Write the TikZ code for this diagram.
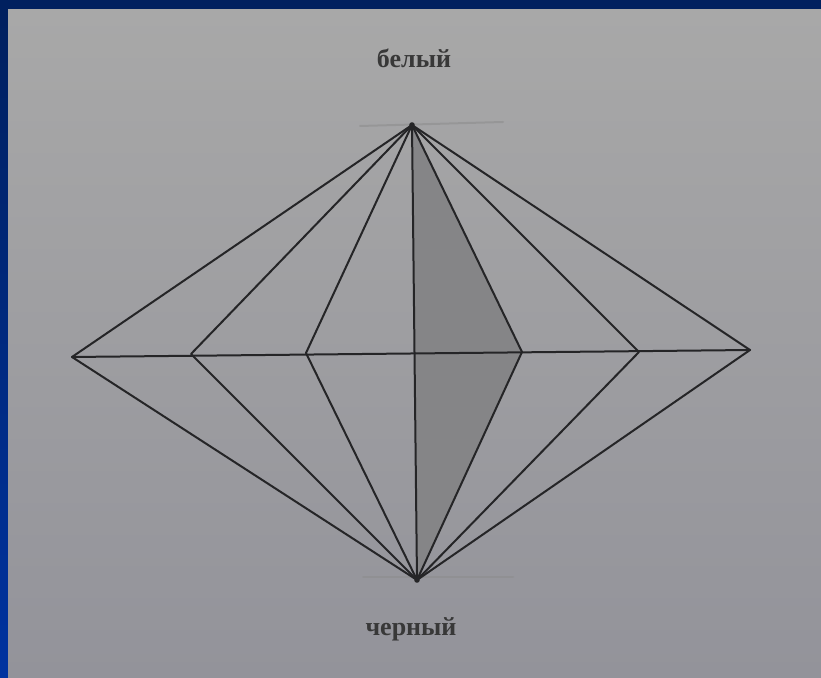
\documentclass[tikz,border=0pt]{standalone}
\usepackage{fontspec}
\setmainfont{Liberation Serif}
\definecolor{navy}{HTML}{00205F}
\definecolor{navyb}{HTML}{0033A0}
\definecolor{papertop}{HTML}{A8A8A8}
\definecolor{paperbot}{HTML}{93939A}
\definecolor{ink}{HTML}{252527}
\definecolor{shadefill}{HTML}{858587}
\begin{document}
\begin{tikzpicture}[x=1pt,y=1pt,
  edge/.style={draw=ink, line width=2pt, line join=round, line cap=round},
  faint/.style={draw=black!45, line width=2pt, opacity=0.55, line cap=round},
  lbl/.style={font=\fontsize{26}{30}\selectfont\bfseries, text=black!78, inner sep=0pt, anchor=base}]
\useasboundingbox (0,0) rectangle (821,677);
% frame and paper
\fill[navy] (0,0) rectangle (821,677);
\shade[top color=navy, bottom color=navyb] (0,0) rectangle (8,667);
\shade[top color=papertop, bottom color=paperbot] (8,0) rectangle (821,667);
% vertices
\coordinate (T) at (412,552);
\coordinate (B) at (417,97);
\coordinate (L1) at (72,320);
\coordinate (L2) at (191,323);
\coordinate (L3) at (306,324);
\coordinate (C) at (414.5,324);
\coordinate (R3) at (522,325);
\coordinate (R2) at (639,325);
\coordinate (R1) at (750,327);
\coordinate (ft1) at (360,551);
\coordinate (ft2) at (503,555);
\coordinate (fb1) at (363,100);
\coordinate (fb2) at (513,100);
% shaded triangle
\fill[shadefill] (T) -- (R3) -- (B) -- cycle;
% faint marks at apexes
\draw[faint] (ft1) -- (ft2);
\draw[faint] (fb1) -- (fb2);
% lines
\draw[edge] (L1) -- (R1);
\draw[edge] (T) -- (B);
\foreach \p in {L1,L2,L3,R3,R2,R1}{
  \draw[edge] (T) -- (\p) -- (B);
}
\fill[ink] (T) circle (2.8);
\fill[ink] (B) circle (2.8);
% labels
\node[lbl] (wht) at (414,609) {белый};
\node[lbl] (blk) at (411,42) {черный};
\end{tikzpicture}
\end{document}
